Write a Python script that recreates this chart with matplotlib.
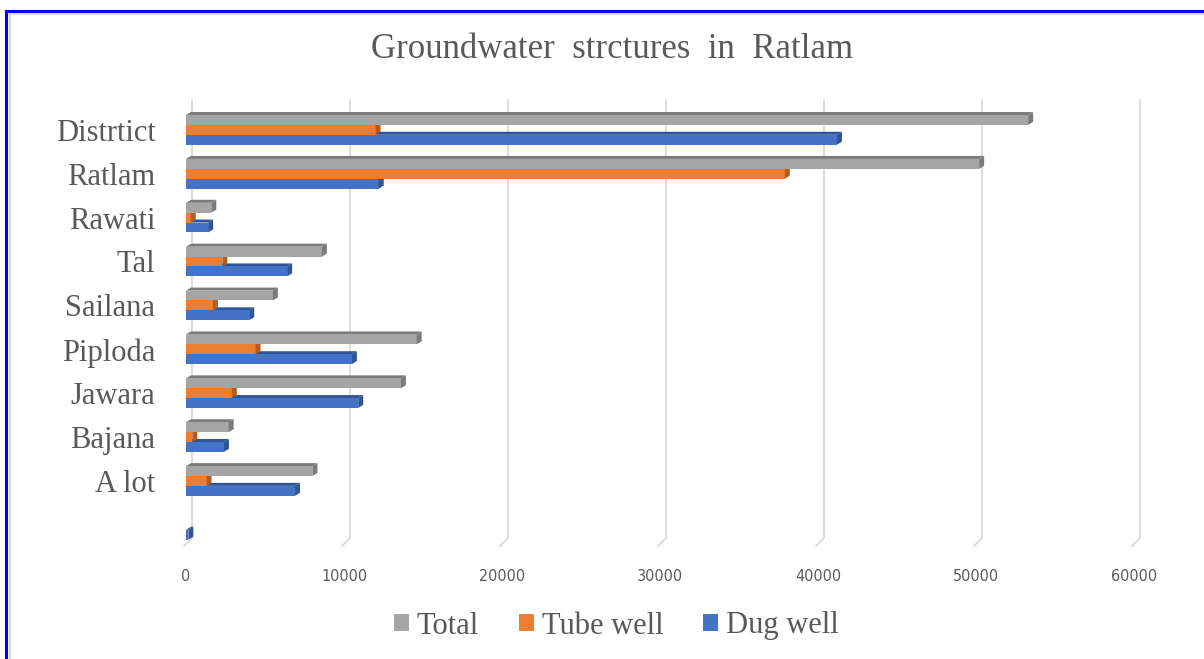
import matplotlib
matplotlib.use("Agg")
import matplotlib.pyplot as plt
from matplotlib.patches import Patch, Polygon, Rectangle
from matplotlib.lines import Line2D
import numpy as np

# ---------- data ----------
categories = ["", "A lot", "Bajana", "Jawara", "Piploda", "Sailana", "Tal",
              "Rawati", "Ratlam", "Distrtict"]
total = [0, 8000, 2700, 13600, 14600, 5500, 8600, 1600, 50200, 53300]
tube_well = [0, 1300, 400, 2900, 4400, 1700, 2300, 300, 37900, 12000]
dug_well = [150, 6900, 2400, 10900, 10500, 4000, 6400, 1400, 12200, 41200]
x_ticks = [0, 10000, 20000, 30000, 40000, 50000, 60000]

# Excel-like palette (face, side/top shade)
C_TOTAL = ("#a5a5a5", "#7b7b7b")
C_TUBE = ("#ed7d31", "#b35c1e")
C_DUG = ("#4472c4", "#2f5597")
TXT = "#595959"
SERIF = ["Liberation Serif", "DejaVu Serif"]

W, H, DPI = 1204, 659, 100
fig = plt.figure(figsize=(W / DPI, H / DPI), dpi=DPI)

# axes placed in pixel terms of the reference
left, right, top, bottom = 186, 1134, 100, 545
ax = fig.add_axes([left / W, 1 - bottom / H, (right - left) / W, (bottom - top) / H])
ax.set_xlim(0, 60000)
ax.set_ylim(-0.46, 9.68)
for s in ax.spines.values():
    s.set_visible(False)
ax.set_facecolor("none")

# data units per pixel for the fake 3D depth
px_x = 60000 / (right - left)
px_y = (9.68 + 0.46) / (bottom - top)
dx, dy = 5 * px_x, 3 * px_y

# back gridlines (shifted by depth) with slanted floor foot
for t in x_ticks:
    ax.plot([t + dx * 1.2, t + dx * 1.2], [-0.3, 9.68], color="#d9d9d9", lw=1.3,
            zorder=0, clip_on=False)
    ax.plot([t + dx * 1.2, t - dx * 0.4], [-0.3, -0.3 - 8 * px_y], color="#d9d9d9",
            lw=1.3, zorder=0, clip_on=False)

y = np.arange(len(categories))
bh = 0.225
series = [
    (dug_well, -bh, C_DUG, 3),
    (tube_well, 0.0, C_TUBE, 4),
    (total, bh, C_TOTAL, 5),
]
for vals, off, (face, shade), z in series:
    for yi, v in zip(y, vals):
        if v <= 0:
            continue
        y0, y1 = yi + off - bh / 2, yi + off + bh / 2
        # top face
        ax.add_patch(Polygon([(0, y1), (dx, y1 + dy), (v + dx, y1 + dy), (v, y1)],
                             closed=True, facecolor=shade, edgecolor="none", zorder=z))
        # front face
        ax.add_patch(Rectangle((0, y0), v, bh, facecolor=face, edgecolor="none", zorder=z))
        # side face
        ax.add_patch(Polygon([(v, y0), (v + dx, y0 + dy), (v + dx, y1 + dy), (v, y1)],
                             closed=True, facecolor=shade, edgecolor="none", zorder=z))

ax.set_yticks(y)
ax.set_yticklabels(categories, family=SERIF, fontsize=22, color=TXT)
ax.set_xticks(x_ticks)
ax.set_xticklabels([str(t) for t in x_ticks], family="DejaVu Sans",
                   fontstretch="condensed", fontsize=11.5, color=TXT)
ax.tick_params(axis="both", length=0)
ax.tick_params(axis="y", pad=22)
ax.tick_params(axis="x", pad=17)

fig.text(0.508, 1 - 50 / H, "Groundwater  strctures  in  Ratlam", ha="center",
         va="center", family=SERIF, fontsize=25, color=TXT)

handles = [Patch(facecolor=C_TOTAL[0], label="Total"),
           Patch(facecolor=C_TUBE[0], label="Tube well"),
           Patch(facecolor=C_DUG[0], label="Dug well")]
leg = fig.legend(handles=handles, loc="center", bbox_to_anchor=(0.512, 1 - 626 / H),
                 ncol=3, frameon=False, prop={"family": SERIF, "size": 22},
                 handlelength=0.5, handleheight=0.5, handletextpad=0.25,
                 columnspacing=1.3)
for t in leg.get_texts():
    t.set_color(TXT)

# screenshot frame: blue outer line with light gray inner line (left and top)
fig.add_artist(Line2D([6 / W, 6 / W], [0, 1 - 11 / H], color="#0000ff", lw=2.2,
                      transform=fig.transFigure))
fig.add_artist(Line2D([6 / W, 1], [1 - 11 / H, 1 - 11 / H], color="#0000ff", lw=2.2,
                      transform=fig.transFigure))
fig.add_artist(Line2D([9.5 / W, 9.5 / W], [0, 1 - 14 / H], color="#d9d9d9", lw=1.5,
                      transform=fig.transFigure))
fig.add_artist(Line2D([9.5 / W, 1], [1 - 14 / H, 1 - 14 / H], color="#d9d9d9", lw=1.5,
                      transform=fig.transFigure))

fig.savefig("out.png", dpi=DPI, facecolor="white")
